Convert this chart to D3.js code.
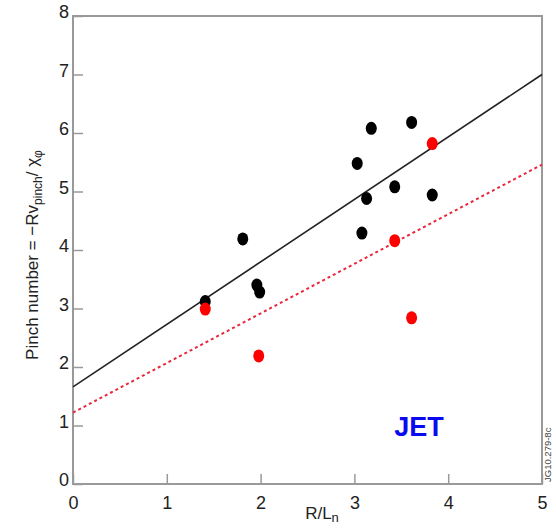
<!DOCTYPE html>
<html>
<head>
<meta charset="utf-8">
<script src="https://cdn.jsdelivr.net/npm/d3@7"></script>
<style>
  html, body { margin: 0; padding: 0; background: #fff; }
  svg { display: block; font-family: "Liberation Sans", Arial, Helvetica, sans-serif; }
</style>
</head>
<body>
<svg id="chart" width="556" height="529"></svg>
<script>
// Measured pinch numbers against normalised density gradient
const blackX = [3.18, 3.61, 3.03, 3.43, 3.13, 3.83, 3.08, 1.81, 1.96, 1.99, 1.41];
const blackY = [6.08, 6.18, 5.48, 5.08, 4.88, 4.94, 4.29, 4.19, 3.40, 3.28, 3.12];
const redX = [3.83, 3.43, 3.61, 1.98, 1.41];
const redY = [5.82, 4.16, 2.84, 2.19, 2.99];

// Linear fits: [x0, y0], [x1, y1]
const fitBlack = [[0, 1.66], [5, 7.0]];
const fitRed = [[0, 1.22], [5, 5.46]];

const xTicks = [0, 1, 2, 3, 4, 5];
const yTicks = [0, 1, 2, 3, 4, 5, 6, 7, 8];

const margin = { left: 73, right: 14, top: 16, bottom: 45 };
const W = 556, H = 529;

const svg = d3.select("#chart");
const x = d3.scaleLinear().domain([0, 5]).range([margin.left, W - margin.right]);
const y = d3.scaleLinear().domain([0, 8]).range([H - margin.bottom, margin.top]);

const axisColor = "#999";

// Frame
svg.append("rect")
  .attr("x", x(0)).attr("y", y(8))
  .attr("width", x(5) - x(0)).attr("height", y(0) - y(8))
  .attr("fill", "none").attr("stroke", axisColor).attr("stroke-width", 2);

// Axes with inward ticks
const xAxis = svg.append("g").attr("transform", `translate(0,${y(0)})`)
  .call(d3.axisBottom(x).tickValues(xTicks).tickSize(-10).tickPadding(14).tickFormat(d3.format("d")));
const yAxis = svg.append("g").attr("transform", `translate(${x(0)},0)`)
  .call(d3.axisLeft(y).tickValues(yTicks).tickSize(-10).tickPadding(4).tickFormat(d3.format("d")));

[xAxis, yAxis].forEach(g => {
  g.select(".domain").remove();
  g.selectAll(".tick line").attr("stroke", axisColor).attr("stroke-width", 1.5);
  g.selectAll(".tick text").attr("fill", "#222").attr("font-size", 18)
    .attr("font-family", "Liberation Sans, Arial, sans-serif");
});
xAxis.selectAll(".tick text").attr("dy", "0.6em");
yAxis.selectAll(".tick text").attr("dy", "0.1em");

// Fit lines
const line = d3.line().x(d => x(d[0])).y(d => y(d[1]));
svg.append("path").datum(fitBlack).attr("d", line)
  .attr("stroke", "#222").attr("stroke-width", 1.6).attr("fill", "none");
svg.append("path").datum(fitRed).attr("d", line)
  .attr("stroke", "#e8283c").attr("stroke-width", 2).attr("stroke-dasharray", "3,3").attr("fill", "none");

// Points
const black = blackX.map((v, i) => [v, blackY[i]]);
const red = redX.map((v, i) => [v, redY[i]]);
svg.append("g").selectAll("ellipse").data(black).join("ellipse")
  .attr("cx", d => x(d[0])).attr("cy", d => y(d[1]))
  .attr("rx", 5.5).attr("ry", 6.5).attr("fill", "#000");
svg.append("g").selectAll("ellipse").data(red).join("ellipse")
  .attr("cx", d => x(d[0])).attr("cy", d => y(d[1]))
  .attr("rx", 5.5).attr("ry", 6.5).attr("fill", "#f00");

// X axis title
const xt = svg.append("text").attr("x", 322).attr("y", 519)
  .attr("text-anchor", "middle").attr("font-size", 17).attr("fill", "#222");
xt.append("tspan").text("R/L");
xt.append("tspan").attr("font-size", 13).attr("dy", 3).text("n");

// Y axis title
const yt = svg.append("text")
  .attr("transform", `translate(38,${(y(0) + y(8)) / 2 + 5}) rotate(-90)`)
  .attr("text-anchor", "middle").attr("font-size", 17).attr("fill", "#222");
yt.append("tspan").text("Pinch number = \u2212Rv");
yt.append("tspan").attr("font-size", 12).attr("dy", 4).text("pinch");
yt.append("tspan").attr("dy", -4).text("/ \u03c7");
yt.append("tspan").attr("font-size", 12).attr("dy", 4).text("\u03c6");

// JET label
svg.append("text").attr("x", 419).attr("y", 436).attr("text-anchor", "middle")
  .attr("font-size", 27).attr("font-weight", "bold").attr("fill", "#0a0af0").text("JET");

// Figure reference
svg.append("text")
  .attr("transform", `translate(551,482) rotate(-90)`)
  .attr("font-size", 9.5).attr("fill", "#444").text("JG10.279-8c");
</script>
</body>
</html>
